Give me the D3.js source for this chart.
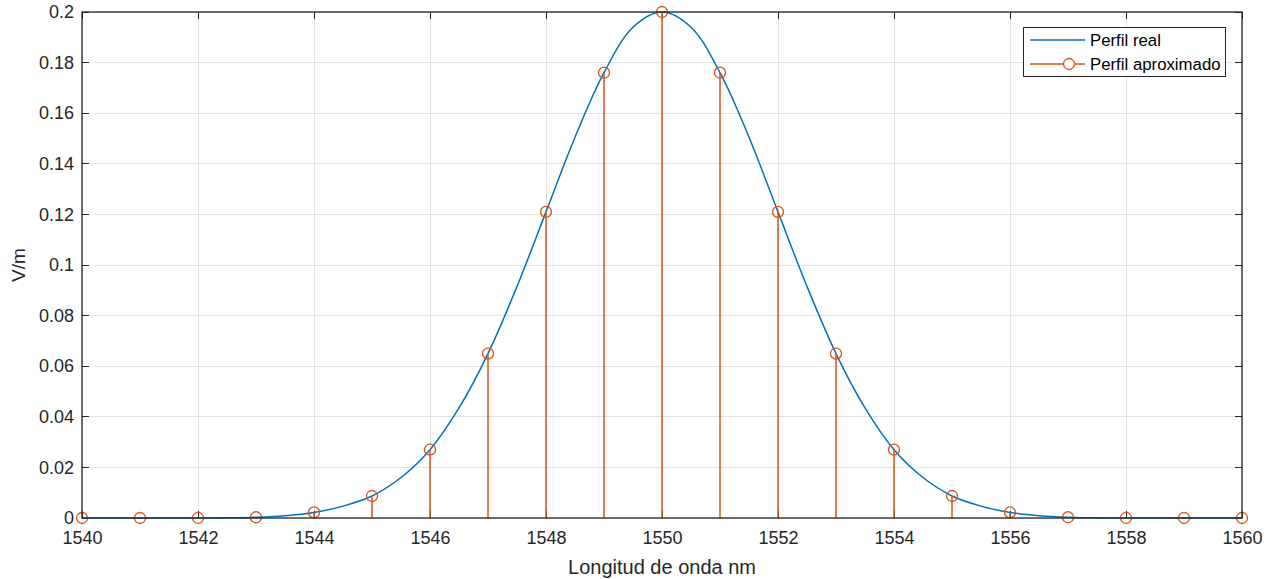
<!DOCTYPE html>
<html><head><meta charset="utf-8">
<script src="https://cdn.jsdelivr.net/npm/d3@7"></script>
<style>body{margin:0;background:#fff;} svg{display:block;}</style>
</head><body>
<script>
// Data
const stemX = [1540,1541,1542,1543,1544,1545,1546,1547,1548,1549,1550,1551,1552,1553,1554,1555,1556,1557,1558,1559,1560];
const stemY = [0,0,0.00001,0.0003,0.0022,0.0087,0.027,0.065,0.121,0.176,0.2,0.176,0.121,0.065,0.027,0.0087,0.0022,0.0003,0.00001,0,0];
const realX = [1540,1541,1542,1542.5,1543,1543.5,1544,1544.5,1545,1545.5,1546,1546.5,1547,1547.5,1548,1548.5,1549,1549.5,1550,1550.5,1551,1551.5,1552,1552.5,1553,1553.5,1554,1554.5,1555,1555.5,1556,1556.5,1557,1557.5,1558,1559,1560];
const realY = [0,0,0.00001,0.00008,0.0003,0.0009,0.0022,0.0047,0.0087,0.0160,0.027,0.0435,0.065,0.0915,0.121,0.1505,0.176,0.1940,0.2,0.1940,0.176,0.1505,0.121,0.0915,0.065,0.0435,0.027,0.016,0.0087,0.0047,0.0022,0.0009,0.0003,0.00008,0.00001,0,0];
const xTicks = [1540,1542,1544,1546,1548,1550,1552,1554,1556,1558,1560];
const yTicks = [0,0.02,0.04,0.06,0.08,0.1,0.12,0.14,0.16,0.18,0.2];
const seriesNames = ["Perfil real","Perfil aproximado"];

const W=1276,H=579;
const L=82,R=1242,T=12,B=518;
const blue="#0072BD", orange="#D95319", axc="#262626";
const font="'Liberation Sans', Arial, Helvetica, sans-serif";

const svg=d3.select("body").append("svg").attr("width",W).attr("height",H).style("font-family",font);
const x=d3.scaleLinear().domain([1540,1560]).range([L,R]);
const y=d3.scaleLinear().domain([0,0.2]).range([B,T]);

// grid
const g=svg.append("g");
g.selectAll(".gx").data(xTicks).enter().append("line")
 .attr("x1",d=>x(d)).attr("x2",d=>x(d)).attr("y1",T).attr("y2",B)
 .attr("stroke","#e3e3e3").attr("stroke-width",1).attr("shape-rendering","crispEdges");
g.selectAll(".gy").data(yTicks).enter().append("line")
 .attr("y1",d=>y(d)).attr("y2",d=>y(d)).attr("x1",L).attr("x2",R)
 .attr("stroke","#e3e3e3").attr("stroke-width",1).attr("shape-rendering","crispEdges");

// axes
const fmtY=d=>d===0?"0":String(+d.toFixed(2));
const xAxis=d3.axisBottom(x).tickValues(xTicks).tickSize(0).tickPadding(13).tickFormat(d3.format("d"));
const yAxis=d3.axisLeft(y).tickValues(yTicks).tickSize(0).tickPadding(8).tickFormat(fmtY);
const xa=svg.append("g").attr("transform",`translate(0,${B})`).call(xAxis);
const ya=svg.append("g").attr("transform",`translate(${L},0)`).call(yAxis);
[xa,ya].forEach(a=>{a.select(".domain").remove();a.selectAll("text").attr("fill",axc).style("font-size","18px").style("font-family",font);});

// tick marks inside on all sides
const tl=7;
const tk=svg.append("g").attr("stroke",axc).attr("stroke-width",1).attr("shape-rendering","crispEdges");
xTicks.forEach(d=>{
  tk.append("line").attr("x1",x(d)).attr("x2",x(d)).attr("y1",B).attr("y2",B-tl);
  tk.append("line").attr("x1",x(d)).attr("x2",x(d)).attr("y1",T).attr("y2",T+tl);
});
yTicks.forEach(d=>{
  tk.append("line").attr("y1",y(d)).attr("y2",y(d)).attr("x1",L).attr("x2",L+tl);
  tk.append("line").attr("y1",y(d)).attr("y2",y(d)).attr("x1",R).attr("x2",R-tl);
});

// real profile
svg.append("path").datum(realX.map((v,i)=>[v,realY[i]]))
 .attr("d",d3.line().x(d=>x(d[0])).y(d=>y(d[1])).curve(d3.curveCatmullRom))
 .attr("fill","none").attr("stroke",blue).attr("stroke-width",1.5);

// stems
const st=svg.append("g");
st.selectAll("line").data(stemX).enter().append("line")
 .attr("x1",d=>x(d)).attr("x2",d=>x(d)).attr("y1",y(0)).attr("y2",(d,i)=>y(stemY[i]))
 .attr("stroke",orange).attr("stroke-width",1.5);
st.selectAll("circle").data(stemX).enter().append("circle")
 .attr("cx",d=>x(d)).attr("cy",(d,i)=>y(stemY[i])).attr("r",5.5)
 .attr("fill","none").attr("stroke",orange).attr("stroke-width",1.3);

// box
svg.append("rect").attr("x",L).attr("y",T).attr("width",R-L).attr("height",B-T)
 .attr("fill","none").attr("stroke",axc).attr("stroke-width",1.3);

// labels
svg.append("text").attr("x",(L+R)/2).attr("y",574).attr("text-anchor","middle")
 .attr("fill",axc).style("font-size","20px").text("Longitud de onda nm");
svg.append("text").attr("transform",`translate(25,${(T+B)/2}) rotate(-90)`).attr("text-anchor","middle")
 .attr("fill",axc).style("font-size","19px").text("V/m");

// legend
const lg=svg.append("g");
lg.append("rect").attr("x",1023.5).attr("y",27.5).attr("width",202).attr("height",49)
 .attr("fill","#fff").attr("stroke",axc).attr("stroke-width",1);
lg.append("line").attr("x1",1030).attr("x2",1085).attr("y1",40).attr("y2",40).attr("stroke",blue).attr("stroke-width",1.5);
lg.append("line").attr("x1",1030).attr("x2",1085).attr("y1",64).attr("y2",64).attr("stroke",orange).attr("stroke-width",1.5);
lg.append("circle").attr("cx",1069).attr("cy",64).attr("r",5.5).attr("fill","#fff").attr("stroke",orange).attr("stroke-width",1.3);
lg.selectAll("text").data(seriesNames).enter().append("text")
 .attr("x",1090).attr("y",(d,i)=>40+i*24).attr("dy","0.35em").attr("fill","#000")
 .style("font-size","16.8px").text(d=>d);
</script>
</body></html>
